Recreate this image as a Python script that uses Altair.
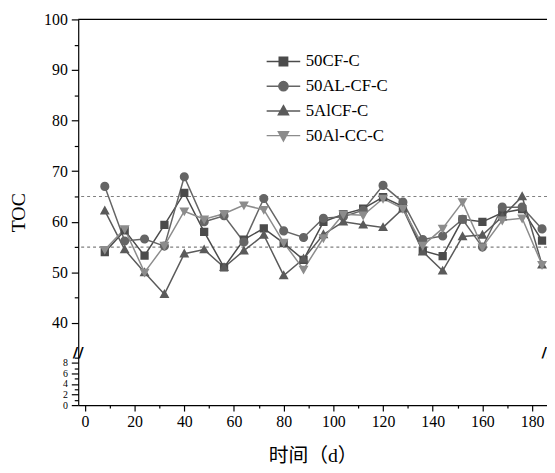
import altair as alt
import pandas as pd

days = [8, 16, 24, 32, 40, 48, 56, 64, 72, 80, 88, 96, 104, 112, 120, 128, 136, 144, 152, 160, 168, 176, 184]
cf = [54.0, 58.3, 53.3, 59.4, 65.7, 58.0, 51.0, 56.5, 58.7, 55.8, 52.5, 60.0, 61.5, 62.6, 64.9, 63.0, 54.3, 53.2, 60.5, 60.0, 61.8, 62.5, 56.3]
al_cf = [67.0, 56.2, 56.6, 55.2, 68.9, 60.0, 61.2, 56.0, 64.6, 58.2, 56.9, 60.7, 61.0, 62.3, 67.2, 63.9, 56.5, 57.2, 60.5, 55.0, 62.9, 62.9, 58.6]
alcf = [62.2, 54.5, 50.0, 45.7, 53.7, 54.5, 51.0, 54.3, 57.4, 49.4, 52.7, 57.5, 60.0, 59.4, 58.9, 62.6, 54.1, 50.3, 57.1, 57.4, 61.0, 65.0, 51.5]
al_cc = [54.5, 58.6, 50.0, 55.3, 62.1, 60.5, 61.6, 63.3, 62.4, 55.9, 50.6, 56.8, 61.5, 61.3, 64.6, 62.6, 55.3, 58.7, 63.9, 55.0, 60.3, 60.7, 51.5]

series = ["50CF-C", "50AL-CF-C", "5AlCF-C", "50Al-CC-C"]
colors = ["#4b4b4b", "#656565", "#5a5a5a", "#8c8c8c"]
# marker glyphs with a stroke-only line segment (only visible where a stroke is drawn: the legend)
marker_paths = [
    "M-4,0L4,0M-1,-1L1,-1L1,1L-1,1Z",
    "M-4,0L4,0M1.1,0A1.1,1.1,0,1,1,-1.1,0A1.1,1.1,0,1,1,1.1,0Z",
    "M-4,0L4,0M0,-1.25L1.2,0.9L-1.2,0.9Z",
    "M-4,0L4,0M0,1.25L1.2,-0.9L-1.2,-0.9Z",
]
ref_lines = [55, 65]
x_ticks = list(range(0, 181, 10))
y_ticks = list(range(0, 10)) + list(range(40, 101, 5))

rows = []
for name, vals in zip(series, [cf, al_cf, alcf, al_cc]):
    for d, v in zip(days, vals):
        rows.append({"day": d, "toc": v, "series": name})
df = pd.DataFrame(rows)

W, H = 474, 390
NUMFONT = "'Liberation Serif'"
FONT = "'Liberation Serif', 'Noto Sans CJK SC'"

xscale = alt.Scale(domain=[-2.7, 186], nice=False, zero=False)
yscale = alt.Scale(domain=[0, 9, 35.5, 100], range=[390, 342, 330, 0], nice=False, zero=False)

major_y = "(datum.value >= 40 && datum.value % 10 === 0) || (datum.value < 10 && datum.value % 2 === 0)"
x_axis = alt.Axis(
    values=x_ticks, title="时间（d）", grid=False,
    labelExpr="datum.value % 20 === 0 ? datum.label : ''",
    tickSize={"condition": {"test": "datum.value % 20 === 0", "value": 6}, "value": 3},
    labelFontSize=16, labelPadding=3, titleFontSize=20, titlePadding=16,
    labelOverlap=False, labelFont=NUMFONT, titleFont=FONT,
)
y_axis = alt.Axis(
    values=y_ticks, title="TOC", grid=False,
    labelExpr=major_y + " ? datum.label : ''",
    tickSize={"condition": {"test": major_y, "value": 7}, "value": 4},
    labelFontSize={"condition": {"test": "datum.value < 10", "value": 10}, "value": 16},
    labelPadding=4, titleFontSize=20, titlePadding=15, labelOverlap=False,
    labelFont=NUMFONT, titleFont=FONT,
)

X = alt.X("day:Q", scale=xscale, axis=x_axis)
Y = alt.Y("toc:Q", scale=yscale, axis=y_axis)
color_scale = alt.Scale(domain=series, range=colors)

leg = alt.Legend(orient="none", legendX=199, legendY=34, title=None,
                 symbolSize=72, symbolStrokeWidth=1.5, symbolOpacity=1,
                 symbolStrokeColor="#5a5a5a",
                 labelFont=FONT, labelFontSize=17, labelColor="black",
                 labelOffset=14, rowPadding=7)

lines = alt.Chart(df).mark_line(strokeWidth=1.5).encode(
    x=X, y=Y,
    color=alt.Color("series:N", scale=color_scale, title=None, legend=leg),
    detail="series:N",
)

points = alt.Chart(df).mark_point(filled=True, size=70, opacity=1, strokeWidth=0).encode(
    x=X, y=Y,
    color=alt.Color("series:N", scale=color_scale, title=None, legend=leg),
    shape=alt.Shape("series:N", scale=alt.Scale(domain=series, range=marker_paths), title=None, legend=leg),
)

refs = alt.Chart(pd.DataFrame({"v": ref_lines})).mark_rule(
    color="#808080", strokeDash=[3, 3], strokeWidth=1.2
).encode(y=alt.Y("v:Q", scale=yscale, axis=y_axis))

top_line = alt.Chart(pd.DataFrame({"v": [0]})).mark_rule(color="black", strokeWidth=1.2).encode(
    x=alt.value(0), x2=alt.value(W), y=alt.value(0)
)

breaks = alt.Chart(pd.DataFrame({"bx": [-2.7, 186], "by": [22, 22]})).mark_text(
    text="//", fontSize=15, font="DejaVu Sans", color="black", fontWeight="bold"
).encode(x=alt.X("bx:Q", scale=xscale, axis=x_axis), y=alt.Y("by:Q", scale=yscale, axis=y_axis))

chart = alt.layer(refs, lines, points, top_line, breaks).properties(
    width=W, height=H,
    autosize=alt.AutoSizeParams(type="none"),
    padding={"left": 71, "top": 9, "right": 0, "bottom": 58},
).configure_view(stroke=None).configure_axis(
    labelColor="black", titleColor="black",
    domainColor="black", tickColor="black", domainWidth=1.2, tickWidth=1.2,
    titleFontWeight="normal", labelOverlap=False,
).configure_legend(
    orient="none", legendX=199, legendY=34,
)

chart.save("out.html", embed_options={"renderer": "svg", "actions": False})
